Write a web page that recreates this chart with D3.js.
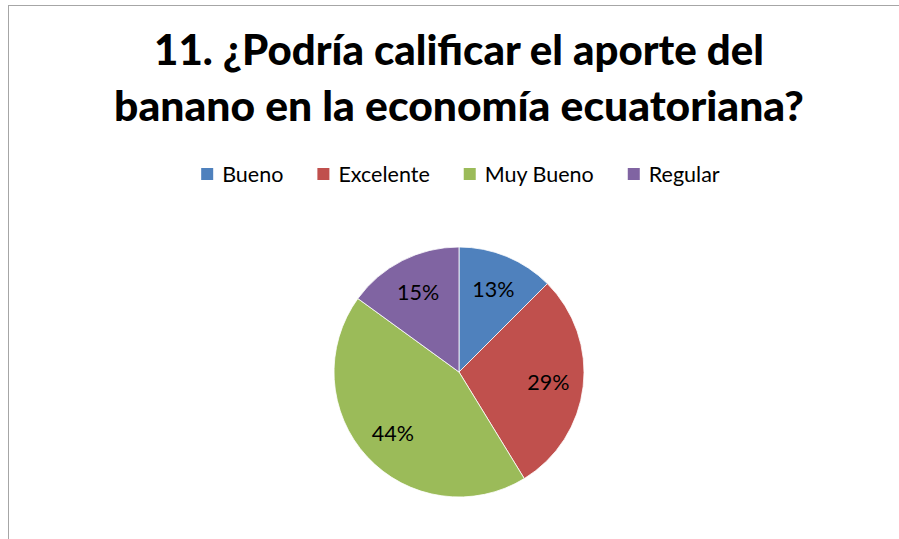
<!DOCTYPE html>
<html>
<head>
<meta charset="utf-8">
<script src="https://cdn.jsdelivr.net/npm/d3@7"></script>
<style>
  html, body { margin: 0; padding: 0; background: #fff; }
  svg { display: block; font-family: Lato, "Open Sans", sans-serif; }
</style>
</head>
<body>
<svg id="chart" width="899" height="539"></svg>
<script>
const titleLines = ["11. ¿Podría calificar el aporte del", "banano en la economía ecuatoriana?"];
const categories = ["Bueno", "Excelente", "Muy Bueno", "Regular"];
const counts = [10, 23, 35, 12];
const colors = ["#4F81BD", "#C0504D", "#9BBB59", "#8064A2"];

const width = 899, height = 539;
const svg = d3.select("#chart");

// chart frame (only left and top edges are visible in the picture)
svg.append("rect")
  .attr("x", 8.5).attr("y", 5.5)
  .attr("width", 1000).attr("height", 1000)
  .attr("fill", "#fff")
  .attr("stroke", "#a6a6a6")
  .attr("stroke-width", 1);

const titleSpecs = [{ y: 65, w: 610 }, { y: 121, w: 690 }];
titleLines.forEach((line, i) => {
  const t = svg.append("text")
    .attr("x", 459).attr("y", titleSpecs[i].y)
    .attr("text-anchor", "middle")
    .attr("font-weight", "900")
    .attr("font-size", 40)
    .attr("fill", "#000")
    .text(line);
  const len = t.node().getComputedTextLength();
  t.attr("font-size", 40 * titleSpecs[i].w / len);
});

// legend
const legendY = 174;
const gap = 34;
const legend = svg.append("g");
const items = legend.selectAll("g").data(categories).join("g");
items.append("rect")
  .attr("width", 12).attr("height", 12)
  .attr("y", legendY - 6)
  .attr("fill", (d, i) => colors[i]);
items.append("text")
  .attr("x", 21).attr("y", legendY + 7.5)
  .attr("font-size", 21.5)
  .attr("fill", "#000")
  .text((d) => d);
let lx = 0;
items.each(function () {
  d3.select(this).attr("transform", `translate(${lx},0)`);
  lx += this.getBBox().width + gap;
});
lx -= gap;
legend.attr("transform", `translate(${(194 + 727) / 2 - lx / 2},0)`);

// pie
const cx = 459, cy = 372, radius = 125;
const total = d3.sum(counts);
const pie = d3.pie().sort(null).value((d) => d);
const arcs = pie(counts);
const arc = d3.arc().innerRadius(0).outerRadius(radius);
const labelArc = d3.arc().innerRadius(radius * 0.72).outerRadius(radius * 0.72);
const pct = (v) => Math.round((v / total) * 100 + 1e-9) + "%";

const g = svg.append("g").attr("transform", `translate(${cx},${cy})`);
g.selectAll("path").data(arcs).join("path")
  .attr("d", arc)
  .attr("fill", (d, i) => colors[i])
  .attr("stroke", "#fff")
  .attr("stroke-width", 0.8);

g.selectAll("text").data(arcs).join("text")
  .attr("transform", (d) => `translate(${labelArc.centroid(d)})`)
  .attr("text-anchor", "middle")
  .attr("dy", "0.36em")
  .attr("font-size", 21.5)
  .attr("fill", "#000")
  .text((d) => pct(d.value));
</script>
</body>
</html>
